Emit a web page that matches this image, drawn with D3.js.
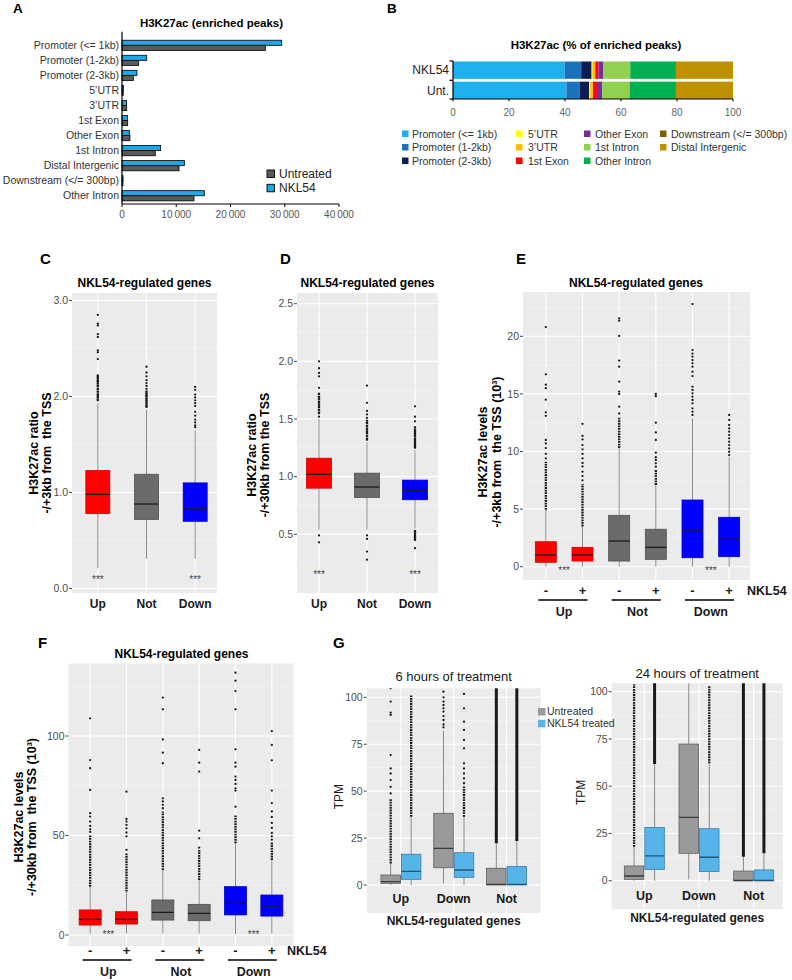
<!DOCTYPE html>
<html><head><meta charset="utf-8">
<script src="https://cdn.jsdelivr.net/npm/d3@7"></script>
<style>body{margin:0;background:#fff}svg{display:block;font-family:"Liberation Sans",Arial,Helvetica,sans-serif}</style>
</head><body>
<svg id="fig" width="792" height="980"></svg>
<script>
// ================= DATA =================
// Panel A
const aCategories = ["Promoter (<= 1kb)","Promoter (1-2kb)","Promoter (2-3kb)","5\u2019UTR","3\u2019UTR","1st Exon","Other Exon","1st Intron","Distal Intergenic","Downstream (</= 300bp)","Other Intron"];
const aNKL54 = [29440, 4550, 2760, 250, 830, 1030, 1350, 7130, 11490, 200, 15180];
const aUntreated = [26420, 3070, 2090, 230, 866, 1050, 1470, 6140, 10510, 180, 13270];
const aTicks = [0, 10000, 20000, 30000, 40000];
const aSeries = ["Untreated", "NKL54"];

// Panel B
const bRegions = ["Promoter (<= 1kb)","Promoter (1-2kb)","Promoter (2-3kb)","5\u2019UTR","3\u2019UTR","1st Exon","Other Exon","1st Intron","Other Intron","Downstream (</= 300bp)","Distal Intergenic"];
const bRows = ["NKL54", "Unt."];
const bNKL54 = [39.9, 5.9, 3.7, 0.3, 1.0, 1.2, 1.6, 9.7, 16.0, 0.3, 20.4];
const bUnt = [40.5, 4.7, 3.4, 0.4, 1.0, 1.4, 1.9, 9.8, 16.2, 0.3, 20.4];
const bTicks = [0, 20, 40, 60, 80, 100];

// Panel C  (box stats: lower whisker, Q1, median, Q3, upper whisker)
const cGroups = ["Up", "Not", "Down"];
const cStats = [[0.21,0.78,0.98,1.23,1.93],[0.31,0.72,0.88,1.19,1.86],[0.31,0.70,0.83,1.10,1.65]];
const cOutliers = [[2.85,2.76,2.74,2.65,2.62,2.48,2.46,2.39,2.22,2.20,2.17,2.15,2.11,2.08,2.05,2.01,1.99,1.96],
  [2.31,2.25,2.21,2.17,2.14,2.11,2.08,2.05,2.02,2.00,1.97,1.94,1.91,1.89],
  [2.10,2.07,2.02,1.99,1.96,1.93,1.90,1.84,1.80,1.76,1.73,1.70,1.68]];
const cDense = [[[1.96,2.22]],[[1.89,2.06]],[]];
const cStars = ["***", "", "***"];
const cTicks = [0, 1, 2, 3];

// Panel D
const dGroups = ["Up", "Not", "Down"];
const dStats = [[0.54,0.90,1.02,1.16,1.50],[0.54,0.82,0.91,1.03,1.30],[0.55,0.80,0.88,0.97,1.23]];
const dOutliers = [[2.00,1.94,1.90,1.87,1.77,1.72,1.69,1.67,1.64,1.61,1.58,1.55,1.52,0.49,0.43],
  [1.79,1.64,1.57,1.54,1.51,1.47,1.44,1.41,1.38,1.35,1.32,0.49,0.46,0.35,0.28],
  [1.61,1.52,1.48,1.43,1.40,1.38,1.36,1.33,1.31,1.29,1.27,1.25,0.53,0.51,0.49,0.47,0.45,0.38]];
const dDense = [[[1.55,1.72]],[[1.32,1.50]],[[1.25,1.42],[0.45,0.54]]];
const dStars = ["***", "", "***"];
const dTicks = [0.5, 1.0, 1.5, 2.0, 2.5];

// Panel E
const eGroups = ["Up", "Not", "Down"];
const eTreat = ["-", "+"];
const eStats = [[0,0.38,1.02,2.17,4.92],[0,0.49,1.02,1.68,3.47],[0,0.49,2.23,4.46,10.28],[0,0.64,1.68,3.25,7.09],[0,0.78,3.10,5.79,12.88],[0,0.87,2.37,4.29,9.55]];
const eOutliers = [[20.8,16.7,15.8,15.5,14.5,13.4,13.1,11.0,10.7,10.3,9.8,9.4],
  [12.4,11.35,11.05,10.56,10.19,9.79,9.4,9.0,8.7,8.25,7.87,7.5],
  [21.56,21.36,20.03,17.89,17.36,16.06,15.2,14.99,13.89,13.3],
  [15.0,14.8,12.5,11.66,11.0,9.9,9.5,9.26,8.97,8.68],
  [22.8,18.8,18.5,18.23,17.94,17.65,17.36,16.93,16.55,15.63,15.34,15.05,14.76,14.47,14.18,13.75,13.46,13.17],
  [13.17,12.74,12.3,12.0,11.72,11.43,11.14,10.85,10.56,10.27,9.98,9.69]];
const eDense = [[[4.95,9.1]],[[3.5,7.2]],[[10.3,13.0]],[[7.1,8.4]],[],[]];
const eStars = ["***", "", "***"];
const eTicks = [0, 5, 10, 15, 20];

// Panel F
const fStats = [[0.8,5.0,7.9,12.6,24.3],[0.8,5.5,7.9,11.7,21.8],[0.8,7.5,11.4,17.6,32.7],[0.8,7.2,10.9,15.4,27.6],[0.5,10.1,15.9,24.3,46.1],[0.8,9.5,14.6,20.1,37.7]];
const fOutliers = [[108.9,87.9,83.8,72.9,61.2,59.5,57.0,54.8,53.1,51.8],
  [72.0,58.3,57.0,55.3,53.6,51.5,49.6,42.8],
  [119.3,113.4,98.3,91.6,86.3,68.7,67.1,65.4,63.7],
  [93.0,86.6,82.1,52.4,48.6,43.9],
  [131.8,127.8,122.6,113.4,93.3,86.6,84.6,79.6,77.9,75.9,73.7,72.6,64.5],
  [102.5,95.5,87.8,72.6,66.3,62.1,59.3,56.3,53.8,51.3,49.6,47.9]];
const fDense = [[[24.3,50.2]],[[21.8,41.2]],[[32.7,62]],[[27.6,42.7]],[[46.1,60]],[[37.7,46.5]]];
const fStars = ["***", "", "***"];
const fTicks = [0, 50, 100];

// Panel G (order: Up-Untreated, Up-Treated, Down-Untreated, Down-Treated, Not-Untreated, Not-Treated)
const gGroups = ["Up", "Down", "Not"];
const gConditions = ["Untreated", "NKL54 treated"];
const g6Stats = [[0,0.89,1.78,5.33,11.5],[0,3.02,7.3,16.4,36.4],[0.9,9.2,19.5,38.2,82.2],[0,4.1,8.0,17.2,36.4],[0,0,0.3,8.9,22.2],[0,0,0.3,9.8,23.4]];
const g6Outliers = [[104.8,97.7,91.8,90.6,69.2,62.1,59.4,55.9,52.3,48.8],[],[103,100,97.7,95.9,94.1,92.4,90,87.9,85.5,84],[101.8,94.1,87.0,82.6,77.3,72.8,64.8,62.1,59.4,56.8,54.2],[],[]];
const g6Dense = [[[11.5,46]],[[36.4,101]],[],[[36.4,52.5]],[[22.2,110]],[[23.4,110]]];
const g24Stats = [[0,0.72,2.49,7.78,18.0],[0,6.0,13.1,28.2,61.7],[0.7,14.5,33.5,72.3,110],[0,4.8,12.4,27.5,62.1],[0,0,0.1,5.1,12.7],[0,0,0.1,5.7,14.5]];
const g24Outliers = [[],[],[],[],[],[]];
const g24Dense = [[[18,104]],[[61.7,110]],[],[[62.1,103]],[[12.7,110]],[[14.5,110]]];
const gTicks = [0, 25, 50, 75, 100];

// ================= DRAWING =================
const svg = d3.select("#fig");
const defs = svg.append("defs");

function txt(x, y, s, o = {}) {
  const t = svg.append("text").attr("x", x).attr("y", y).attr("xml:space", "preserve")
    .attr("font-size", o.size || 11).attr("fill", o.fill || "#000").text(s);
  if (o.bold) t.attr("font-weight", "bold");
  if (o.anchor) t.attr("text-anchor", o.anchor);
  if (o.dy) t.attr("dy", o.dy);
  if (o.rotate) t.attr("transform", `rotate(-90,${x},${y})`);
  return t;
}
function hline(x1, x2, y, stroke, w) {
  svg.append("line").attr("x1", x1).attr("x2", x2).attr("y1", y).attr("y2", y).attr("stroke", stroke).attr("stroke-width", w);
}
function vline(x, y1, y2, stroke, w) {
  svg.append("line").attr("x1", x).attr("x2", x).attr("y1", y1).attr("y2", y2).attr("stroke", stroke).attr("stroke-width", w);
}

// ---------- Panel A ----------
txt(13, 13, "A", {bold: true, size: 13.5});
txt(211.5, 27, "H3K27ac (enriched peaks)", {bold: true, size: 11.5, anchor: "middle"});
const aX = d3.scaleLinear().domain([0, 40000]).range([122, 339]);
const aY = d3.scaleBand().domain(aCategories).range([37.8, 203.3]);
const aColor = {Untreated: "#5a5a5a", NKL54: "#1da7e4"};
const aBarH = 5.1;
aCategories.forEach((c, i) => {
  const cy = aY(c) + aY.bandwidth() / 2;
  svg.append("rect").attr("x", aX(0)).attr("y", cy - aBarH).attr("width", aX(aNKL54[i]) - aX(0)).attr("height", aBarH)
    .attr("fill", aColor.NKL54).attr("stroke", "#000").attr("stroke-width", 0.8);
  svg.append("rect").attr("x", aX(0)).attr("y", cy).attr("width", aX(aUntreated[i]) - aX(0)).attr("height", aBarH)
    .attr("fill", aColor.Untreated).attr("stroke", "#000").attr("stroke-width", 0.8);
  txt(119, cy, c, {size: 10.5, anchor: "end", dy: "0.35em", fill: "#333"});
});
vline(aX(0), 31.7, 204, "#000", 1.2);
hline(aX(0), aX(40000), 204, "#000", 1.2);
aTicks.forEach(t => {
  vline(aX(t), 204, 207, "#000", 1);
  txt(aX(t), 218, t === 0 ? "0" : d3.format(",")(t).replace(",", "\u2009"), {size: 10, anchor: "middle", fill: "#555"});
});
aSeries.forEach((s, i) => {
  const yy = 170 + i * 14.3;
  svg.append("rect").attr("x", 267).attr("y", yy).attr("width", 7.5).attr("height", 7.5)
    .attr("fill", aColor[s]).attr("stroke", "#000").attr("stroke-width", 0.9);
  txt(279, yy + 7.8, s, {size: 12, fill: "#222"});
});

// ---------- Panel B ----------
txt(387, 13, "B", {bold: true, size: 13.5});
txt(596, 49, "H3K27ac (% of enriched peaks)", {bold: true, size: 11.5, anchor: "middle"});
const bColors = d3.scaleOrdinal().domain(bRegions)
  .range(["#1cb0ec","#1a72bb","#0c1d4e","#ffff00","#ffc000","#ff0000","#7030a0","#92d050","#00b050","#7f6000","#bf9000"]);
const bX = d3.scaleLinear().domain([0, 100]).range([453, 733]);
const bY = d3.scaleBand().domain(bRows).range([61.5, 99]).paddingInner(0.14);
const bTable = bRows.map((r, ri) => {
  const o = {row: r};
  bRegions.forEach((k, ki) => o[k] = (ri === 0 ? bNKL54 : bUnt)[ki]);
  return o;
});
const bStack = d3.stack().keys(bRegions)(bTable);
bStack.forEach(layer => {
  layer.forEach(seg => {
    svg.append("rect").attr("x", bX(seg[0])).attr("y", bY(seg.data.row))
      .attr("width", Math.max(0, bX(seg[1]) - bX(seg[0]))).attr("height", bY.bandwidth())
      .attr("fill", bColors(layer.key));
  });
});
bRows.forEach(r => txt(449, bY(r) + bY.bandwidth() / 2, r, {size: 12, anchor: "end", dy: "0.36em", fill: "#222"}));
vline(bX(0), 61, 99.5, "#000", 1.2);
[61, 80.3, 99].forEach(yy => hline(bX(0) - 3.5, bX(0), yy, "#000", 1.2));
hline(bX(0), bX(100), 99, "#000", 1.2);
bTicks.forEach(t => {
  vline(bX(t), 99, 101.5, "#000", 1);
  txt(bX(t), 116, String(t), {size: 10, anchor: "middle", fill: "#666"});
});
const bLegX = [402, 516, 584, 660], bLegTX = [412, 528, 595, 671], bLegY = [137.5, 151, 164.5];
bRegions.forEach((k, i) => {
  const col = Math.floor(i / 3), row = i % 3;
  svg.append("rect").attr("x", bLegX[col]).attr("y", bLegY[row] - 7).attr("width", 6.5).attr("height", 6.5).attr("fill", bColors(k));
  txt(bLegTX[col], bLegY[row], k, {size: 10.5, fill: "#333"});
});

// ---------- Box panel helper ----------
function boxPanel(cfg) {
  const {id, left, right, top, bottom, y, centers, width, stats, outliers, dense} = cfg;
  defs.append("clipPath").attr("id", id).append("rect")
    .attr("x", left).attr("y", top).attr("width", right - left).attr("height", bottom - top);
  svg.append("rect").attr("x", left).attr("y", top).attr("width", right - left).attr("height", bottom - top).attr("fill", "#ebebeb");
  const c = svg.append("g").attr("clip-path", `url(#${id})`);
  cfg.minor.forEach(v => c.append("line").attr("x1", left).attr("x2", right).attr("y1", y(v)).attr("y2", y(v)).attr("stroke", "#f6f6f6").attr("stroke-width", 0.6));
  cfg.ticks.forEach(v => c.append("line").attr("x1", left).attr("x2", right).attr("y1", y(v)).attr("y2", y(v)).attr("stroke", "#fff").attr("stroke-width", 1.1));
  cfg.vgrid.forEach(x => c.append("line").attr("x1", x).attr("x2", x).attr("y1", top).attr("y2", bottom).attr("stroke", "#fff").attr("stroke-width", 1.1));
  centers.forEach((cx, i) => {
    const s = stats[i];
    c.append("line").attr("x1", cx).attr("x2", cx).attr("y1", y(s[0])).attr("y2", y(s[1])).attr("stroke", cfg.whisker).attr("stroke-width", 1);
    c.append("line").attr("x1", cx).attr("x2", cx).attr("y1", y(s[3])).attr("y2", y(s[4])).attr("stroke", cfg.whisker).attr("stroke-width", 1);
    (dense[i] || []).forEach(r => {
      const solid = cfg.solid && cfg.solid.includes(i);
      const l = c.append("line").attr("x1", cx).attr("x2", cx).attr("y1", y(r[0])).attr("y2", y(r[1]))
        .attr("stroke", "#1a1a1a").attr("stroke-width", solid ? 3 : 2.3);
      if (!solid) l.attr("stroke-dasharray", "1.8,0.8");
    });
    (outliers[i] || []).forEach(v => c.append("circle").attr("cx", cx).attr("cy", y(v)).attr("r", 1.15).attr("fill", "#1a1a1a"));
    c.append("rect").attr("x", cx - width / 2).attr("y", y(s[3])).attr("width", width).attr("height", Math.max(0.5, y(s[1]) - y(s[3])))
      .attr("fill", cfg.fills[i]).attr("stroke", cfg.strokes[i]).attr("stroke-width", 0.8);
    c.append("line").attr("x1", cx - width / 2).attr("x2", cx + width / 2).attr("y1", y(s[2])).attr("y2", y(s[2]))
      .attr("stroke", cfg.medians[i]).attr("stroke-width", 1.3);
  });
  cfg.ticks.forEach(v => {
    hline(left - 3, left, y(v), "#333", 0.9);
    txt(left - 4, y(v), cfg.fmt(v), {size: cfg.tickSize || 10.5, anchor: "end", dy: "0.35em", fill: "#4d4d4d"});
  });
}
function yTitle(lines, xs, yc, size, bold, fill) {
  lines.forEach((l, i) => txt(xs[i], yc, l, {size: size, bold: bold, anchor: "middle", dy: "0.35em", rotate: true, fill: fill || "#000"}));
}
const RED = "#ff0000", GRY = "#6b6b6b", BLU = "#0000ff";
const boxFill3 = d3.scaleOrdinal().domain(["Up","Not","Down"]).range([RED, GRY, BLU]);
const boxStroke3 = d3.scaleOrdinal().domain(["Up","Not","Down"]).range(["#d40000", "#4f4f4f", "#0000c8"]);

// ---------- Panel C ----------
txt(40, 264, "C", {bold: true, size: 15});
txt(144.5, 287, "NKL54-regulated genes", {bold: true, size: 12, anchor: "middle"});
const cY = d3.scaleLinear().domain([0, 3]).range([588.5, 300.5]);
const cX = d3.scaleBand().domain(cGroups).range([73.5, 219.5]);
const cCenters = cGroups.map(g => cX(g) + cX.bandwidth() / 2);
boxPanel({id: "clipC", left: 72, right: 217, top: 293, bottom: 593, y: cY, centers: cCenters, width: 24,
  stats: cStats, outliers: cOutliers, dense: cDense, ticks: cTicks, minor: [0.5, 1.5, 2.5], vgrid: cCenters,
  fills: cGroups.map(boxFill3), strokes: cGroups.map(boxStroke3), medians: cGroups.map(() => "#1a1a1a"),
  whisker: "#8a8a8a", fmt: d3.format(".1f")});
cGroups.forEach((g, i) => {
  if (cStars[i]) txt(cCenters[i], cY(0.12), cStars[i], {size: 10, anchor: "middle", dy: "0.6em", fill: "#444"});
  txt(cCenters[i], 608, g, {bold: true, size: 12, anchor: "middle", fill: "#1a1a1a"});
});
yTitle(["H3K27ac ratio", "-/+3kb from  the TSS"], [33.5, 46.5], 453, 12.5, true);

// ---------- Panel D ----------
txt(280, 264, "D", {bold: true, size: 15});
txt(367.5, 287, "NKL54-regulated genes", {bold: true, size: 12, anchor: "middle"});
const dY = d3.scaleLinear().domain([0.5, 2.5]).range([534.3, 303.7]);
const dX = d3.scaleBand().domain(dGroups).range([295, 439]);
const dCenters = dGroups.map(g => dX(g) + dX.bandwidth() / 2);
boxPanel({id: "clipD", left: 297, right: 438, top: 293, bottom: 593, y: dY, centers: dCenters, width: 25,
  stats: dStats, outliers: dOutliers, dense: dDense, ticks: dTicks, minor: [0.25, 0.75, 1.25, 1.75, 2.25], vgrid: dCenters,
  fills: dGroups.map(boxFill3), strokes: dGroups.map(boxStroke3), medians: dGroups.map(() => "#1a1a1a"),
  whisker: "#8a8a8a", fmt: d3.format(".1f")});
dGroups.forEach((g, i) => {
  if (dStars[i]) txt(dCenters[i], dY(0.17), dStars[i], {size: 10, anchor: "middle", dy: "0.6em", fill: "#444"});
  txt(dCenters[i], 608, g, {bold: true, size: 12, anchor: "middle", fill: "#1a1a1a"});
});
yTitle(["H3K27ac ratio", "-/+30kb from the TSS"], [252, 265], 455, 12.5, true);

// ---------- Panel E ----------
txt(516, 264, "E", {bold: true, size: 15});
txt(636, 287, "NKL54-regulated genes", {bold: true, size: 12, anchor: "middle"});
const eKeys = eGroups.flatMap(g => eTreat.map(t => g + t));
const eY = d3.scaleLinear().domain([0, 20]).range([566.7, 336.3]);
const eX = d3.scaleBand().domain(eKeys).range([527.5, 747.5]);
const eCenters = eKeys.map(k => eX(k) + eX.bandwidth() / 2);
const eGroupOf = eKeys.map(k => k.slice(0, -1));
boxPanel({id: "clipE", left: 523, right: 750, top: 292, bottom: 580, y: eY, centers: eCenters, width: 21,
  stats: eStats, outliers: eOutliers, dense: eDense, ticks: eTicks, minor: [2.5, 7.5, 12.5, 17.5, 22.5], vgrid: eCenters,
  fills: eGroupOf.map(boxFill3), strokes: eGroupOf.map(boxStroke3), medians: eKeys.map(() => "#1a1a1a"),
  whisker: "#8a8a8a", fmt: d3.format("d")});
yTitle(["H3K27ac levels", "-/+3kb from  the TSS (10\u00b3)"], [483, 497], 452, 12.5, true);

function treatAxis(xs, groups, yStar, starVals, yPM, yLine, yGrp, nklX) {
  groups.forEach((g, gi) => {
    const c1 = xs(g + eTreat[0]) + xs.bandwidth() / 2, c2 = xs(g + eTreat[1]) + xs.bandwidth() / 2;
    if (starVals[gi]) txt((c1 + c2) / 2, yStar, starVals[gi], {size: 10, anchor: "middle", dy: "0.35em", fill: "#444"});
    txt(c1, yPM, eTreat[0], {bold: true, size: 13, anchor: "middle", fill: "#1a1a1a"});
    txt(c2, yPM, eTreat[1], {bold: true, size: 13, anchor: "middle", fill: "#1a1a1a"});
    hline(c1 - 7.5, c2 + 5, yLine, "#000", 1.4);
    txt((c1 + c2) / 2, yGrp, g, {bold: true, size: 12.5, anchor: "middle", fill: "#1a1a1a"});
  });
  txt(nklX, yPM, "NKL54", {bold: true, size: 12.5, fill: "#1a1a1a"});
}
treatAxis(eX, eGroups, eY(-0.37), eStars, 594.5, 600, 616, 747);

// ---------- Panel F ----------
txt(38, 648, "F", {bold: true, size: 15});
txt(181.5, 657.5, "NKL54-regulated genes", {bold: true, size: 12, anchor: "middle"});
const fY = d3.scaleLinear().domain([0, 100]).range([935, 736]);
const fX = d3.scaleBand().domain(eKeys).range([72, 290]);
const fCenters = eKeys.map(k => fX(k) + fX.bandwidth() / 2);
boxPanel({id: "clipF", left: 68.5, right: 293.5, top: 663.5, bottom: 946, y: fY, centers: fCenters, width: 22,
  stats: fStats, outliers: fOutliers, dense: fDense, ticks: fTicks, minor: [25, 75, 125], vgrid: fCenters,
  fills: eGroupOf.map(boxFill3), strokes: eGroupOf.map(boxStroke3), medians: eKeys.map(() => "#1a1a1a"),
  whisker: "#8a8a8a", fmt: d3.format("d")});
yTitle(["H3K27ac levels", "-/+30kb from  the TSS (10\u00b3)"], [19, 31.5], 817, 12.5, true);
treatAxis(fX, eGroups, fY(0.3), fStars, 954.5, 960, 976, 287);

// ---------- Panel G ----------
txt(333, 648, "G", {bold: true, size: 15});
const gFill = d3.scaleOrdinal().domain(gConditions).range(["#999999", "#56b4e9"]);
const gStroke = d3.scaleOrdinal().domain(gConditions).range(["#5e5e5e", "#3b7aa3"]);
const gMed = d3.scaleOrdinal().domain(gConditions).range(["#3a3a3a", "#22567a"]);
const gDodge = d3.scaleBand().domain(gConditions).range([-20.5, 20.5]);
const gCond = gGroups.flatMap(() => gConditions);

function gPanel(id, left, right, top, bottom, yRange, bandRange, stats, outs, dense, solid, title, titleY, tpmX, labY, footY) {
  const y = d3.scaleLinear().domain([0, 100]).range(yRange);
  const x = d3.scaleBand().domain(gGroups).range(bandRange);
  const gc = gGroups.map(g => x(g) + x.bandwidth() / 2);
  const centers = gGroups.flatMap((g, gi) => gConditions.map(c => gc[gi] + gDodge(c) + gDodge.bandwidth() / 2));
  boxPanel({id, left, right, top, bottom, y, centers, width: 19.5, stats, outliers: outs, dense,
    ticks: gTicks, minor: [12.5, 37.5, 62.5, 87.5], vgrid: gc, solid,
    fills: gCond.map(gFill), strokes: gCond.map(gStroke), medians: gCond.map(gMed),
    whisker: "#8a8a8a", fmt: d3.format("d"), tickSize: 10.5});
  txt((left + right) / 2, titleY, title, {size: 13, anchor: "middle", fill: "#1a1a1a"});
  yTitle(["TPM"], [tpmX], (top + bottom) / 2 - 4, 12, false, "#1a1a1a");
  gGroups.forEach((g, gi) => txt(gc[gi], labY, g, {bold: true, size: 12.5, anchor: "middle", fill: "#1a1a1a"}));
  txt((left + right) / 2, footY, "NKL54-regulated genes", {bold: true, size: 12, anchor: "middle", fill: "#1a1a1a"});
}
gPanel("clipG6", 366.7, 540.7, 688.3, 913, [885, 697.3], [374.5, 533], g6Stats, g6Outliers, g6Dense, [4, 5],
  "6 hours of treatment", 681, 338.5, 903, 925);
gPanel("clipG24", 611.7, 782.7, 683.3, 909.3, [880.7, 691.7], [617, 781], g24Stats, g24Outliers, g24Dense, [1, 4, 5],
  "24 hours of treatment", 678, 580.5, 900, 922);
gConditions.forEach((c, i) => {
  const yy = 708 + i * 11.8;
  svg.append("rect").attr("x", 538).attr("y", yy).attr("width", 7.5).attr("height", 7.5).attr("fill", gFill(c));
  txt(547, yy + 7.3, c, {size: 10.5, fill: "#333"});
});
</script>
</body></html>
